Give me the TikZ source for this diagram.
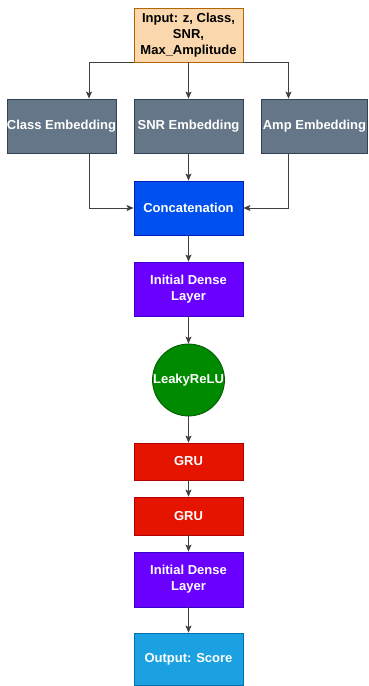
\documentclass[tikz,border=0pt]{standalone}
\usepackage{fontspec}
\setmainfont{Liberation Sans}
\usetikzlibrary{arrows.meta}
\definecolor{inF}{HTML}{FAD7AC}\definecolor{inD}{HTML}{B46504}
\definecolor{emF}{HTML}{647687}\definecolor{emD}{HTML}{314354}
\definecolor{caF}{HTML}{0050EF}\definecolor{caD}{HTML}{001DBC}
\definecolor{deF}{HTML}{6A00FF}\definecolor{deD}{HTML}{3700CC}
\definecolor{leF}{HTML}{008A00}\definecolor{leD}{HTML}{005700}
\definecolor{grF}{HTML}{E51400}\definecolor{grD}{HTML}{B20000}
\definecolor{ouF}{HTML}{1BA1E2}\definecolor{ouD}{HTML}{006EAF}
\tikzset{
  box/.style={rectangle, minimum width=109pt, inner sep=0pt, align=center,
    font=\fontsize{13}{16}\selectfont\bfseries, text=white, line width=0.8pt},
  circ/.style={circle, minimum size=72pt, inner sep=0pt, align=center,
    font=\fontsize{13}{16}\selectfont\bfseries, text=white, line width=0.8pt},
  arr/.style={draw=black!75, line width=0.9pt, -{Stealth[length=7pt,width=6pt,inset=1.5pt]}}
}
\begin{document}
\begin{tikzpicture}[x=1pt,y=-1pt]
\useasboundingbox (0,0) rectangle (368,686);
\node[box, fill=inF, draw=inD, text=black, minimum height=54pt] (in) at (188.5,35) {Input: z, Class,\\SNR,\\Max\_Amplitude};
\node[box, fill=emF, draw=emD, minimum height=54pt] (cls) at (61.5,126) {Class Embedding};
\node[box, fill=emF, draw=emD, minimum height=54pt] (snr) at (188.5,126) {SNR Embedding};
\node[box, fill=emF, draw=emD, minimum height=54pt, minimum width=106pt] (amp) at (314.5,126) {Amp Embedding};
\node[box, fill=caF, draw=caD, minimum height=54pt] (cat) at (188.5,208) {Concatenation};
\node[box, fill=deF, draw=deD, minimum height=54pt] (d1) at (188.5,289) {Initial Dense\\Layer};
\node[circ, fill=leF, draw=leD] (lr) at (188.5,380) {LeakyReLU};
\node[box, fill=grF, draw=grD, minimum height=37pt] (g1) at (188.5,461.5) {GRU};
\node[box, fill=grF, draw=grD, minimum height=38pt] (g2) at (188.5,516) {GRU};
\node[box, fill=deF, draw=deD, minimum height=55pt] (d2) at (188.5,579.5) {Initial Dense\\Layer};
\node[box, fill=ouF, draw=ouD, minimum height=52pt] (out) at (188.5,659) {Output: Score};
\draw[arr] (in.south west) -| ([xshift=27.5pt]cls.north);
\draw[arr] (in.south) -- (snr.north);
\draw[arr] (in.south east) -| ([xshift=-26pt]amp.north);
\draw[arr] ([xshift=27.5pt]cls.south) |- (cat.west);
\draw[arr] (snr.south) -- (cat.north);
\draw[arr] ([xshift=-26pt]amp.south) |- (cat.east);
\draw[arr] (cat.south) -- (d1.north);
\draw[arr] (d1.south) -- (lr.north);
\draw[arr] (lr.south) -- (g1.north);
\draw[arr] (g1.south) -- (g2.north);
\draw[arr] (g2.south) -- (d2.north);
\draw[arr] (d2.south) -- (out.north);
\end{tikzpicture}
\end{document}
